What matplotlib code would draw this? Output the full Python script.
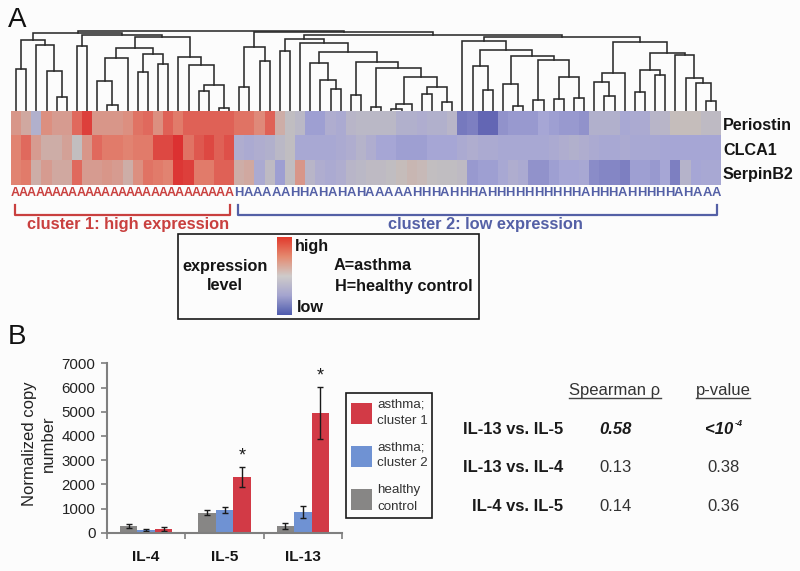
import matplotlib
matplotlib.use("Agg")

import numpy as np
import matplotlib.pyplot as plt
from matplotlib.colors import LinearSegmentedColormap
from matplotlib.patches import Rectangle

plt.rcParams["font.family"] = ["Liberation Sans", "DejaVu Sans"]

# ============================================================
# DATA
# ============================================================

genes = ["Periostin", "CLCA1", "SerpinB2"]

periostin = [.35, .2, -.3, .4, .3, .3, .65, .9, .35, .35, .35, .4, .6, .65, .4, .7, .55, .7, .7, .7, .7, .7,
             .6, .6, .45, .7, .15, -.05, -.15, -.55, -.55, -.35, -.4, -.2, -.15, -.15, -.15, -.15,
             -.3, -.3, -.35, -.3, -.3, -.2, -.85, -.8, -1, -1, -.65, -.6, -.6, -.6, -.5, -.55, -.6, -.6, -.65,
             -.3, -.3, -.3, -.45, -.4, -.4, -.2, -.2, .02, .02, .02, -.1, -.1]
clca1 = [.5, .65, .3, .15, .15, .25, -.02, .35, .65, .55, .55, .5, .55, .55, .85, .85, .98, .6, .75, .85, .7, .8,
         -.35, -.4, -.35, -.3, -.15, -.05, -.45, -.45, -.45, -.45, -.4, -.35, -.25, -.35, -.5, -.5,
         -.55, -.55, -.55, -.5, -.5, -.5, -.4, -.35, -.4, -.4, -.45, -.45, -.45, -.45, -.45, -.4, -.35, -.3, -.35,
         -.4, -.45, -.45, -.4, -.45, -.45, -.45, -.5, -.5, -.5, -.5, -.5, -.5]
serpinb2 = [.5, .55, .15, .3, .2, .2, .65, .3, .3, .35, .3, .15, .4, .6, .55, .5, .95, .9, .55, .55, .7, .7,
            .15, .2, -.4, -.1, -.55, -.05, .35, -.2, -.35, -.4, -.35, -.2, -.15, -.1, -.1, -.05,
            .03, .08, .05, -.03, -.05, -.05, -.1, -.6, -.55, -.55, -.45, -.35, -.4, -.65, -.65, -.55, -.5, -.5, -.45,
            -.7, -.75, -.75, -.8, -.55, -.55, -.6, -.5, -.8, -.25, -.5, -.45, -.45]

# dendrogram: (merge height, left, right), leaves are o, in column order
o = None
red_left = (70.7, (41.7, o, o), (65.7, o, (39.3, o, (14, o, o))))
red_mid = (62.7, (52.3, (30, o, (5.7, o, o)), o), (56.7, (38.3, o, o), (46.7, o, o)))
red_end = (53.3, o, (45.7, o, (25.7, (20, o, o), (2.3, o, o))))
red_tree = (77.7, red_left, (75.7, (65, o, o), (73.3, red_mid, red_end)))
blue_first = (63.3, (23.3, o, o), (49.3, o, o))
blue_s = (34, (6.7, (1.7, o, o), o), (24, (16.7, o, o), (8.3, o, o)))
blue_p = (48.3, (16, o, o), (42.7, (3.3, o, o), blue_s))
blue_l = (71.7, (60, o, o), (67.3, o, (59, (47.7, o, (31, o, (21.7, o, o))), blue_p)))
blue_r1 = (69.3, o, (61, (44.3, o, (21, o, o)),
                     (54.3, (26.7, o, (4.7, o, o)), (50.7, (10.7, o, o), (33.3, (11.7, o, o), (12.7, o, o))))))
blue_r2 = (68.3, (37.7, (29, o, (15, o, o)), o),
           (57.7, (40.7, (19, o, o), (36, o, o)), (55.7, o, (32.3, o, (27.7, o, (9.3, o, o))))))
blue_tree = (79, blue_first, (76, blue_l, (74, blue_r1, blue_r2)))
tree = (80, red_tree, blue_tree)

red_letters = "A" * 27
blue_letters = "HAAAAAHHAHAHAHAAAAAHHHAHHHAHHHHHHHHHHAHHHAHHHHHAHAAA"

cytokines = ["IL-4", "IL-5", "IL-13"]
healthy = [290, 820, 280]
healthy_err = [80, 100, 120]
cluster2 = [110, 930, 860]
cluster2_err = [30, 130, 240]
cluster1 = [160, 2300, 4950]
cluster1_err = [70, 400, 1060]
y_ticks = [0, 1000, 2000, 3000, 4000, 5000, 6000, 7000]

pairs = ["IL-13 vs. IL-5", "IL-13 vs. IL-4", "IL-4 vs. IL-5"]
rho = ["0.58", "0.13", "0.14"]
pvals = ["<10", "0.38", "0.36"]

# ============================================================
# SETTINGS
# ============================================================

W, H = 800, 571
BG = "#fcfcfc"
RED_TXT = "#c9403f"
BLUE_TXT = "#5460a6"
BAR_RED = "#d23a46"
BAR_BLUE = "#6f92d3"
BAR_GREY = "#878685"
AXIS_GREY = "#7f7f7f"

heat_cmap = LinearSegmentedColormap.from_list(
    "heat", ["#6366b4", "#a6a6d6", "#c4c0bf", "#e28472", "#dc2f2f"]
)
bar_cmap = LinearSegmentedColormap.from_list(
    "bar", ["#4f5cae", "#a5a5cf", "#cfcbca", "#e58a70", "#e23a2c"]
)


def px_axes(fig, left, top, right, bottom, **kw):
    return fig.add_axes([left / W, 1 - bottom / H, (right - left) / W, (bottom - top) / H], **kw)


def draw_node(ax, node, counter):
    # returns (x, height) of the node, draws its bracket
    if node is None:
        x = counter[0] + 0.5
        counter[0] += 1
        return x, 0
    h, left, right = node
    x1, h1 = draw_node(ax, left, counter)
    x2, h2 = draw_node(ax, right, counter)
    ax.plot([x1, x1, x2, x2], [h1, h, h, h2], color="#2b2b2b", lw=1.15, solid_joinstyle="miter")
    return (x1 + x2) / 2, h


fig = plt.figure(figsize=(W / 100, H / 100), dpi=100, facecolor=BG)

# overlay in pixel coordinates for the labels and boxes
page = fig.add_axes([0, 0, 1, 1], zorder=5)
page.set_xlim(0, W)
page.set_ylim(H, 0)
page.axis("off")

# ============================================================
# PANEL A
# ============================================================

dend = px_axes(fig, 11, 25, 721, 110.5)
dend.set_xlim(0, 70)
dend.set_ylim(0, 85.5)
dend.axis("off")
draw_node(dend, tree, [0])

heat = px_axes(fig, 11, 110.5, 721, 185)
heat.imshow(np.array([periostin, clca1, serpinb2]), cmap=heat_cmap, vmin=-1, vmax=1,
            aspect="auto", interpolation="nearest")
heat.axis("off")

for y, gene in zip([125, 150.5, 175], genes):
    page.text(723, y, gene, fontsize=11.6, fontweight="bold", va="center", color="#151515")

for i, ch in enumerate(red_letters):
    page.text(11 + (i + 0.5) * 222 / len(red_letters), 193, ch, color=RED_TXT, fontsize=9,
              fontweight="bold", ha="center", va="center")
for i, ch in enumerate(blue_letters):
    page.text(234 + (i + 0.5) * 487 / len(blue_letters), 193, ch, color=BLUE_TXT, fontsize=9.4,
              fontweight="bold", ha="center", va="center")

page.plot([15, 15, 230, 230], [205, 215, 215, 205], color=RED_TXT, lw=1.6)
page.plot([238, 238, 717, 717], [205, 215, 215, 205], color=BLUE_TXT, lw=1.6)
page.text(128.5, 225, "cluster 1: high expression", color=RED_TXT, fontsize=11.8,
          fontweight="bold", ha="center", va="center")
page.text(485, 224.5, "cluster 2: low expression", color=BLUE_TXT, fontsize=11.8,
          fontweight="bold", ha="center", va="center")

page.add_patch(Rectangle((178, 234), 301, 85, fill=False, ec="#1a1a1a", lw=1.2))
cbar = px_axes(fig, 277, 237, 292, 315, zorder=6)
cbar.imshow(np.linspace(1, -1, 200).reshape(-1, 1), cmap=bar_cmap, aspect="auto")
cbar.axis("off")
for x, y, s, ha in [(225, 266, "expression", "center"), (225, 286, "level", "center"),
                    (295, 246, "high", "left"), (297, 307, "low", "left"),
                    (334, 266, "A=asthma", "left"), (335, 286, "H=healthy control", "left")]:
    page.text(x, y, s, fontsize=11.7, fontweight="bold", ha=ha, va="center", color="#151515")

page.text(8, 27, "A", fontsize=20, va="baseline", color="#111111")
page.text(8, 344, "B", fontsize=20, va="baseline", color="#111111")

# ============================================================
# PANEL B
# ============================================================

ax = px_axes(fig, 107, 363.3, 342, 532.7)
ax.set_facecolor("none")
centers = np.arange(len(cytokines)) + 0.5
width = 0.224
err_kw = dict(ecolor="#1a1a1a", elinewidth=1.0, capsize=2.5, capthick=1.0)
ax.bar(centers - width, healthy, width, color=BAR_GREY, yerr=healthy_err, error_kw=err_kw)
ax.bar(centers, cluster2, width, color=BAR_BLUE, yerr=cluster2_err, error_kw=err_kw)
ax.bar(centers + width, cluster1, width, color=BAR_RED, yerr=cluster1_err, error_kw=err_kw)
ax.set_xlim(0, 3)
ax.set_ylim(0, 7000)
ax.set_yticks(y_ticks)
ax.set_xticks([0, 1, 2, 3])
ax.set_xticklabels([])
ax.tick_params(axis="both", direction="out", length=4.3, width=1.2, color=AXIS_GREY)
ax.tick_params(axis="y", labelsize=10.8, labelcolor="#222222", pad=4)
for side in ["top", "right"]:
    ax.spines[side].set_visible(False)
for side in ["left", "bottom"]:
    ax.spines[side].set_color(AXIS_GREY)
    ax.spines[side].set_linewidth(1.5)

for i in [1, 2]:
    ax.text(centers[i] + width, cluster1[i] + cluster1_err[i] + 480, "*", ha="center", va="center",
            fontsize=13, color="#1a1a1a")

page.text(39, 443.5, "Normalized copy\nnumber", rotation=90, fontsize=12, ha="center", va="center",
          color="#222222", linespacing=1.3)
for c, s in zip(centers, cytokines):
    page.text(107 + c * 78.3, 557, s, fontsize=11.1, fontweight="bold", ha="center", va="center",
              color="#151515")

page.add_patch(Rectangle((346, 393), 86, 125, fill=False, ec="#1a1a1a", lw=1.2))
legend_rows = [(403, BAR_RED, "asthma;", "cluster 1"), (446, BAR_BLUE, "asthma;", "cluster 2"),
               (489, BAR_GREY, "healthy", "control")]
for top, col, l1, l2 in legend_rows:
    page.add_patch(Rectangle((351, top), 21, 20.5, fc=col, ec="none"))
    page.text(377, top + 1.5, l1, fontsize=9.6, va="center", color="#333333")
    page.text(377, top + 17.5, l2, fontsize=9.6, va="center", color="#333333")

# ============================================================
# TABLE
# ============================================================

page.text(615, 390, "Spearman \u03c1", fontsize=12, ha="center", va="center", color="#333333")
page.plot([569, 661], [398, 398], color="#444444", lw=1)
page.text(723, 390, "p-value", fontsize=12, ha="center", va="center", color="#333333")
page.plot([696, 750], [398, 398], color="#444444", lw=1)

for i, (y, pair) in enumerate(zip([429.5, 467.5, 506.5], pairs)):
    page.text(563, y, pair, fontsize=11.9, fontweight="bold", ha="right", va="center", color="#1a1a1a")
    if i == 0:
        page.text(616, y, rho[i], fontsize=12, fontweight="bold", style="italic", ha="center",
                  va="center", color="#1a1a1a")
        page.text(733, y, pvals[i], fontsize=12, fontweight="bold", style="italic", ha="right",
                  va="center", color="#1a1a1a")
        page.text(734.5, y - 6, "-4", fontsize=6.5, fontweight="bold", style="italic", ha="left",
                  va="center", color="#1a1a1a")
    else:
        page.text(616, y, rho[i], fontsize=12, ha="center", va="center", color="#333333")
        page.text(723, y, pvals[i], fontsize=12, ha="center", va="center", color="#333333")

fig.savefig("out.png", dpi=100, facecolor=BG)
plt.close(fig)
